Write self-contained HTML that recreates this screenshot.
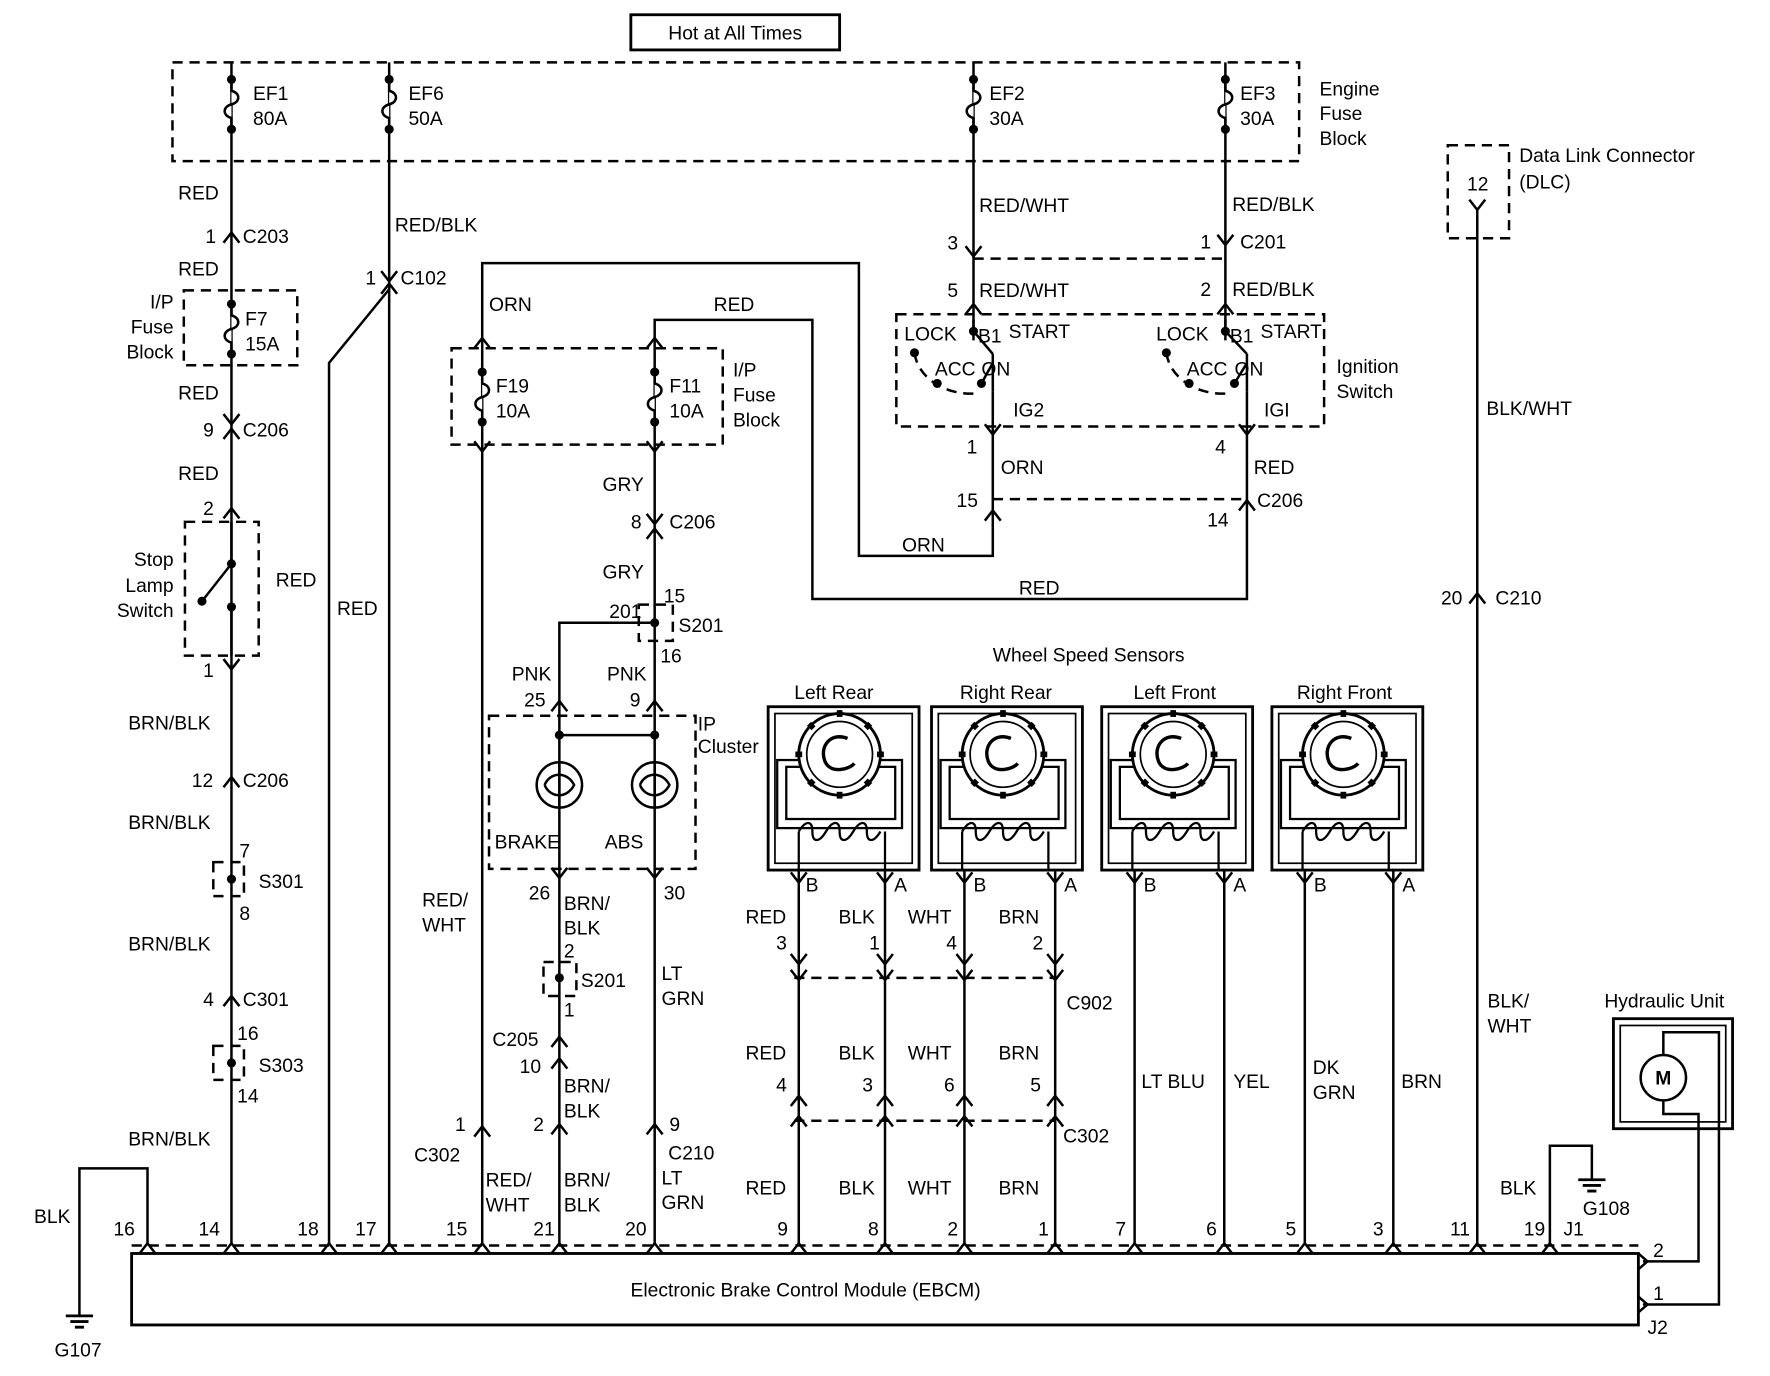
<!DOCTYPE html>
<html><head><meta charset="utf-8"><style>
html,body{margin:0;padding:0;background:#fff;}
svg{display:block;}
text{font-family:"Liberation Sans",sans-serif;font-size:17px;fill:#000;}
</style></head><body>
<svg width="1770" height="1376" viewBox="0 0 1560 1213" preserveAspectRatio="none" xmlns="http://www.w3.org/2000/svg">
<defs>
<path id="up" d="M-7,7 L0,-2 L7,7" fill="none" stroke="#000" stroke-width="2.2"/>
<path id="dn" d="M-7,-7 L0,2 L7,-7" fill="none" stroke="#000" stroke-width="2.2"/>
<g id="fuse"><circle cx="0" cy="-22" r="4"/><circle cx="0" cy="22" r="4"/><path d="M0,-22 V-12 C8,-10 8,-2 0,0 C-8,2 -8,10 0,12 V22" fill="#fff" stroke="#000" stroke-width="2.2"/></g>
<g id="sensor">
<rect x="0" y="0" width="133" height="144" fill="none" stroke="#000" stroke-width="2.5"/>
<rect x="6" y="6" width="121" height="132" fill="none" stroke="#000" stroke-width="1.5"/>
<rect x="8" y="47" width="110" height="60" fill="none" stroke="#000" stroke-width="2"/>
<rect x="16" y="53" width="96" height="46" fill="none" stroke="#000" stroke-width="2"/>
<circle cx="63" cy="42" r="36" fill="#fff" stroke="#000" stroke-width="2.5"/>
<circle cx="63" cy="42" r="29" fill="none" stroke="#000" stroke-width="1.5"/>
<g stroke="#000" stroke-width="5"><line x1="63" y1="3" x2="63" y2="9"/><line x1="63" y1="75" x2="63" y2="81"/><line x1="24" y1="42" x2="30" y2="42"/><line x1="96" y1="42" x2="102" y2="42"/><line x1="36" y1="15" x2="40" y2="19"/><line x1="90" y1="15" x2="86" y2="19"/><line x1="36" y1="69" x2="40" y2="65"/><line x1="90" y1="69" x2="86" y2="65"/></g>
<path d="M70,28 C55,22 45,35 50,48 C55,60 72,55 76,50" fill="none" stroke="#000" stroke-width="3"/>
<path d="M27,110 c6,-10 12,-10 12,0 c0,10 6,10 12,0 c6,-10 12,-10 12,0 c0,10 6,10 12,0 c6,-10 12,-10 12,0 c0,10 6,10 12,0" fill="none" stroke="#000" stroke-width="2"/>
<line x1="27" y1="110" x2="27" y2="144" stroke="#000" stroke-width="2"/>
<line x1="103" y1="110" x2="103" y2="144" stroke="#000" stroke-width="2"/>
</g>
</defs>

<!-- title -->
<rect x="556" y="13" width="184" height="31" fill="none" stroke="#000" stroke-width="2.5"/>
<text x="648" y="35" text-anchor="middle" font-size="18">Hot at All Times</text>

<g fill="none" stroke="#000" stroke-width="2.2" stroke-dasharray="9,6">
<rect x="152" y="55" width="993" height="87"/>
<rect x="162" y="256" width="100" height="66"/>
<rect x="163" y="460" width="65" height="118"/>
<rect x="188" y="760" width="27" height="30"/>
<rect x="188" y="922" width="27" height="30"/>
<rect x="398" y="307" width="239" height="85"/>
<rect x="563" y="533" width="30" height="32"/>
<rect x="431" y="631" width="182" height="135"/>
<rect x="479" y="848" width="29" height="30"/>
<rect x="790" y="277" width="377" height="99"/>
<rect x="1276" y="128" width="54" height="82"/>
<line x1="858" y1="228" x2="1080" y2="228"/>
<line x1="875" y1="440" x2="1099" y2="440"/>
<line x1="700" y1="862" x2="930" y2="862"/>
<line x1="700" y1="988" x2="930" y2="988"/>
<line x1="116" y1="1098" x2="1444" y2="1098"/>
<path d="M806,311 A50,40 0 0 0 858,347 M1028,311 A50,40 0 0 0 1080,347"/>
</g>

<!-- wires -->
<g fill="none" stroke="#000" stroke-width="2.2">
<line x1="204" y1="55" x2="204" y2="1098"/>
<line x1="343" y1="55" x2="343" y2="1098"/>
<path d="M343,255 L290,320 V1098"/>
<path d="M425,300 V232 H757 V490 H875 V345"/>
<line x1="425" y1="300" x2="425" y2="1098"/>
<path d="M577,300 V282 H716 V528 H1099 V345"/>
<line x1="577" y1="300" x2="577" y2="1098"/>
<path d="M577,549 H493 V640"/>
<line x1="493" y1="640" x2="493" y2="1098"/>
<line x1="493" y1="648" x2="577" y2="648"/>
<line x1="858" y1="55" x2="858" y2="300"/>
<line x1="1080" y1="55" x2="1080" y2="300"/>
<line x1="1302" y1="183" x2="1302" y2="1098"/>
<line x1="704" y1="767" x2="704" y2="1098"/><line x1="780" y1="767" x2="780" y2="1098"/>
<line x1="850" y1="767" x2="850" y2="1098"/><line x1="930" y1="767" x2="930" y2="1098"/>
<line x1="1000" y1="767" x2="1000" y2="1098"/><line x1="1079" y1="767" x2="1079" y2="1098"/>
<line x1="1150" y1="767" x2="1150" y2="1098"/><line x1="1228" y1="767" x2="1228" y2="1098"/>
<path d="M130,1098 V1030 H70 V1160"/>
<path d="M1366,1098 V1010 H1403 V1040"/>
<path d="M1448,1112 H1497 V982 H1466 V970"/>
<path d="M1448,1150 H1515 V910 H1466 V930"/>
<!-- stop lamp switch -->
<path d="M204,460 V497 M204,535 V578 M204,497 L178,530"/>
<!-- ignition switch -->
<path d="M858,282 V292 M875,312 V345 M858,292 L875,312 M865,338 L875,320"/>
<path d="M1080,282 V292 M1099,312 V345 M1080,292 L1099,312 M1088,338 L1099,320"/>
<!-- bulbs -->
<circle cx="493" cy="692" r="20"/><circle cx="577" cy="692" r="20"/>
<path d="M493,672 V712 M577,672 V712 M480,692 C485,680 500,680 506,692 C500,704 485,704 480,692 M564,692 C569,680 584,680 590,692 C584,704 569,704 564,692"/>
<!-- EBCM -->
<rect x="116" y="1105" width="1328" height="63" stroke-width="2.5" fill="#fff"/>
<!-- hydraulic -->
<rect x="1422" y="898" width="105" height="97" stroke-width="2.5"/>
<rect x="1428" y="904" width="93" height="85" stroke-width="1.5"/>
<circle cx="1466" cy="950" r="20" fill="#fff"/>
<!-- grounds -->
<path d="M58,1160 H82 M62,1165 H78 M66,1170 H74 M1391,1040 H1415 M1395,1045 H1411 M1399,1050 H1407" stroke-width="2.5"/>
</g>
<text x="1466" y="956" text-anchor="middle" font-weight="bold" font-size="15">M</text>

<!-- dots -->
<g>
<circle cx="204" cy="497" r="4"/><circle cx="178" cy="530" r="4"/><circle cx="204" cy="535" r="4"/>
<circle cx="204" cy="775" r="4"/><circle cx="204" cy="937" r="4"/>
<circle cx="577" cy="549" r="4"/><circle cx="493" cy="862" r="4"/>
<circle cx="493" cy="648" r="4"/><circle cx="577" cy="648" r="4"/>
<circle cx="858" cy="292" r="4"/><circle cx="806" cy="311" r="4"/><circle cx="826" cy="338" r="4"/><circle cx="865" cy="338" r="4"/>
<circle cx="1080" cy="292" r="4"/><circle cx="1028" cy="311" r="4"/><circle cx="1048" cy="338" r="4"/><circle cx="1088" cy="338" r="4"/>
</g>

<!-- fuses -->
<use href="#fuse" x="204" y="92"/><use href="#fuse" x="343" y="92"/><use href="#fuse" x="858" y="92"/><use href="#fuse" x="1080" y="92"/>
<use href="#fuse" x="204" y="290"/><use href="#fuse" x="425" y="350"/><use href="#fuse" x="577" y="350"/>

<!-- connectors -->
<use href="#up" x="204" y="207"/><use href="#dn" x="204" y="372"/><use href="#up" x="204" y="380"/>
<use href="#up" x="204" y="450"/><use href="#dn" x="204" y="588"/><use href="#up" x="204" y="687"/><use href="#up" x="204" y="880"/>
<use href="#dn" x="343" y="246"/><use href="#up" x="343" y="252"/>
<use href="#up" x="425" y="300"/><use href="#dn" x="425" y="396"/><use href="#up" x="425" y="995"/>
<use href="#up" x="577" y="300"/><use href="#dn" x="577" y="396"/><use href="#dn" x="577" y="460"/><use href="#up" x="577" y="468"/>
<use href="#up" x="493" y="620"/><use href="#up" x="577" y="620"/><use href="#dn" x="493" y="772"/><use href="#dn" x="577" y="772"/>
<use href="#up" x="493" y="916"/><use href="#up" x="493" y="935"/><use href="#up" x="493" y="993"/><use href="#up" x="577" y="993"/>
<use href="#dn" x="858" y="224"/><use href="#up" x="858" y="270"/><use href="#dn" x="1080" y="214"/><use href="#up" x="1080" y="270"/>
<use href="#dn" x="875" y="381"/><use href="#up" x="875" y="452"/><use href="#dn" x="1099" y="381"/><use href="#up" x="1099" y="443"/>
<use href="#dn" x="1302" y="183"/><use href="#up" x="1302" y="525"/>
<use href="#dn" x="704" y="776"/><use href="#dn" x="780" y="776"/><use href="#dn" x="850" y="776"/><use href="#dn" x="930" y="776"/>
<use href="#dn" x="1000" y="776"/><use href="#dn" x="1079" y="776"/><use href="#dn" x="1150" y="776"/><use href="#dn" x="1228" y="776"/>
<use href="#dn" x="704" y="848"/><use href="#dn" x="780" y="848"/><use href="#dn" x="850" y="848"/><use href="#dn" x="930" y="848"/>
<use href="#dn" x="704" y="862"/><use href="#dn" x="780" y="862"/><use href="#dn" x="850" y="862"/><use href="#dn" x="930" y="862"/>
<use href="#up" x="704" y="968"/><use href="#up" x="780" y="968"/><use href="#up" x="850" y="968"/><use href="#up" x="930" y="968"/>
<use href="#up" x="704" y="986"/><use href="#up" x="780" y="986"/><use href="#up" x="850" y="986"/><use href="#up" x="930" y="986"/>
<g id="pins"></g>
<use href="#up" x="130" y="1098"/><use href="#up" x="204" y="1098"/><use href="#up" x="290" y="1098"/><use href="#up" x="343" y="1098"/>
<use href="#up" x="425" y="1098"/><use href="#up" x="493" y="1098"/><use href="#up" x="577" y="1098"/><use href="#up" x="704" y="1098"/>
<use href="#up" x="780" y="1098"/><use href="#up" x="850" y="1098"/><use href="#up" x="930" y="1098"/><use href="#up" x="1000" y="1098"/>
<use href="#up" x="1079" y="1098"/><use href="#up" x="1150" y="1098"/><use href="#up" x="1228" y="1098"/><use href="#up" x="1302" y="1098"/><use href="#up" x="1366" y="1098"/>
<path d="M1444,1105 L1452,1112 L1444,1119 M1444,1143 L1452,1150 L1444,1157" fill="none" stroke="#000" stroke-width="2.2"/>

<!-- sensors -->
<use href="#sensor" x="677" y="623"/><use href="#sensor" x="821" y="623"/><use href="#sensor" x="971" y="623"/><use href="#sensor" x="1121" y="623"/>

<!-- text -->
<g>
<text x="223" y="88">EF1</text><text x="223" y="110">80A</text>
<text x="360" y="88">EF6</text><text x="360" y="110">50A</text>
<text x="872" y="88">EF2</text><text x="872" y="110">30A</text>
<text x="1093" y="88">EF3</text><text x="1093" y="110">30A</text>
<text x="1163" y="84">Engine</text><text x="1163" y="106">Fuse</text><text x="1163" y="128">Block</text>
<text x="157" y="176">RED</text>
<text x="181" y="214">1</text><text x="214" y="214">C203</text>
<text x="157" y="243">RED</text>
<text x="153" y="272" text-anchor="end">I/P</text><text x="153" y="294" text-anchor="end">Fuse</text><text x="153" y="316" text-anchor="end">Block</text>
<text x="216" y="287">F7</text><text x="216" y="309">15A</text>
<text x="157" y="352">RED</text>
<text x="179" y="385">9</text><text x="214" y="385">C206</text>
<text x="157" y="423">RED</text>
<text x="179" y="454">2</text>
<text x="153" y="499" text-anchor="end">Stop</text><text x="153" y="522" text-anchor="end">Lamp</text><text x="153" y="544" text-anchor="end">Switch</text>
<text x="243" y="517">RED</text>
<text x="179" y="597">1</text>
<text x="113" y="643">BRN/BLK</text>
<text x="169" y="694">12</text><text x="214" y="694">C206</text>
<text x="113" y="731">BRN/BLK</text>
<text x="211" y="756">7</text><text x="211" y="811">8</text><text x="228" y="783">S301</text>
<text x="113" y="838">BRN/BLK</text>
<text x="179" y="887">4</text><text x="214" y="887">C301</text>
<text x="209" y="917">16</text><text x="209" y="972">14</text><text x="228" y="945">S303</text>
<text x="113" y="1010">BRN/BLK</text>
<text x="348" y="204">RED/BLK</text>
<text x="322" y="251">1</text><text x="353" y="251">C102</text>
<text x="297" y="542">RED</text>
<text x="431" y="274">ORN</text>
<text x="437" y="346">F19</text><text x="437" y="368">10A</text>
<text x="590" y="346">F11</text><text x="590" y="368">10A</text>
<text x="646" y="332">I/P</text><text x="646" y="354">Fuse</text><text x="646" y="376">Block</text>
<text x="629" y="274">RED</text>
<text x="531" y="433">GRY</text>
<text x="556" y="466">8</text><text x="590" y="466">C206</text>
<text x="531" y="510">GRY</text>
<text x="585" y="531">15</text><text x="537" y="545">201</text><text x="598" y="557">S201</text><text x="582" y="584">16</text>
<text x="451" y="600">PNK</text><text x="535" y="600">PNK</text>
<text x="462" y="623">25</text><text x="555" y="623">9</text>
<text x="615" y="644" font-size="15">IP</text><text x="615" y="664" font-size="15">Cluster</text>
<text x="436" y="748">BRAKE</text><text x="533" y="748">ABS</text>
<text x="466" y="793">26</text><text x="497" y="802">BRN/</text><text x="497" y="824">BLK</text>
<text x="585" y="793">30</text>
<text x="372" y="799">RED/</text><text x="372" y="821">WHT</text>
<text x="497" y="844">2</text><text x="512" y="870">S201</text><text x="497" y="896">1</text>
<text x="583" y="864">LT</text><text x="583" y="886">GRN</text>
<text x="434" y="922">C205</text><text x="458" y="946">10</text>
<text x="497" y="963">BRN/</text><text x="497" y="985">BLK</text>
<text x="401" y="997">1</text><text x="470" y="997">2</text><text x="590" y="997">9</text>
<text x="365" y="1024">C302</text><text x="589" y="1022">C210</text>
<text x="428" y="1046">RED/</text><text x="428" y="1068">WHT</text>
<text x="497" y="1046">BRN/</text><text x="497" y="1068">BLK</text>
<text x="583" y="1044">LT</text><text x="583" y="1066">GRN</text>
<text x="863" y="187">RED/WHT</text><text x="1086" y="186">RED/BLK</text>
<text x="835" y="220">3</text><text x="1058" y="219">1</text><text x="1093" y="219">C201</text>
<text x="835" y="262">5</text><text x="863" y="262">RED/WHT</text>
<text x="1058" y="261">2</text><text x="1086" y="261">RED/BLK</text>
<text x="797" y="300" font-size="14">LOCK</text><text x="862" y="302">B1</text><text x="889" y="298" font-size="14">START</text>
<text x="824" y="331" font-size="14">ACC</text><text x="865" y="331" font-size="14">ON</text>
<text x="1019" y="300" font-size="14">LOCK</text><text x="1084" y="302">B1</text><text x="1111" y="298" font-size="14">START</text>
<text x="1046" y="331" font-size="14">ACC</text><text x="1088" y="331" font-size="14">ON</text>
<text x="893" y="367">IG2</text><text x="1114" y="367">IGI</text>
<text x="1178" y="329">Ignition</text><text x="1178" y="351">Switch</text>
<text x="852" y="400">1</text><text x="882" y="418">ORN</text>
<text x="1071" y="400">4</text><text x="1105" y="418">RED</text>
<text x="843" y="447">15</text><text x="1108" y="447">C206</text><text x="1064" y="464">14</text>
<text x="795" y="486">ORN</text><text x="898" y="524">RED</text>
<text x="1339" y="143">Data Link Connector</text><text x="1339" y="166">(DLC)</text>
<text x="1293" y="168">12</text>
<text x="1310" y="366">BLK/WHT</text>
<text x="1270" y="533">20</text><text x="1318" y="533">C210</text>
<text x="875" y="583">Wheel Speed Sensors</text>
<text x="700" y="616">Left Rear</text><text x="846" y="616">Right Rear</text><text x="999" y="616">Left Front</text><text x="1143" y="616">Right Front</text>
<text x="710" y="786">B</text><text x="788" y="786">A</text><text x="858" y="786">B</text><text x="938" y="786">A</text>
<text x="1008" y="786">B</text><text x="1087" y="786">A</text><text x="1158" y="786">B</text><text x="1236" y="786">A</text>
<text x="657" y="814">RED</text><text x="739" y="814">BLK</text><text x="800" y="814">WHT</text><text x="880" y="814">BRN</text>
<text x="684" y="837">3</text><text x="766" y="837">1</text><text x="834" y="837">4</text><text x="910" y="837">2</text>
<text x="940" y="890">C902</text>
<text x="657" y="934">RED</text><text x="739" y="934">BLK</text><text x="800" y="934">WHT</text><text x="880" y="934">BRN</text>
<text x="684" y="962">4</text><text x="760" y="962">3</text><text x="832" y="962">6</text><text x="908" y="962">5</text>
<text x="937" y="1007">C302</text>
<text x="657" y="1053">RED</text><text x="739" y="1053">BLK</text><text x="800" y="1053">WHT</text><text x="880" y="1053">BRN</text>
<text x="1006" y="959">LT BLU</text><text x="1087" y="959">YEL</text>
<text x="1157" y="947">DK</text><text x="1157" y="969">GRN</text><text x="1235" y="959">BRN</text>
<text x="1311" y="888">BLK/</text><text x="1311" y="910">WHT</text>
<text x="1414" y="888">Hydraulic Unit</text>
<text x="1322" y="1053">BLK</text><text x="1395" y="1071">G108</text>
<text x="30" y="1078">BLK</text>
<text x="100" y="1089">16</text><text x="175" y="1089">14</text><text x="262" y="1089">18</text><text x="313" y="1089">17</text>
<text x="393" y="1089">15</text><text x="470" y="1089">21</text><text x="551" y="1089">20</text>
<text x="685" y="1089">9</text><text x="765" y="1089">8</text><text x="835" y="1089">2</text><text x="915" y="1089">1</text>
<text x="983" y="1089">7</text><text x="1063" y="1089">6</text><text x="1133" y="1089">5</text><text x="1210" y="1089">3</text>
<text x="1278" y="1089">11</text><text x="1343" y="1089">19</text><text x="1378" y="1089">J1</text>
<text x="1457" y="1108">2</text><text x="1457" y="1146">1</text><text x="1452" y="1176">J2</text>
<text x="710" y="1143" text-anchor="middle">Electronic Brake Control Module (EBCM)</text>
<text x="48" y="1196">G107</text>
</g>
</svg>
</body></html>
